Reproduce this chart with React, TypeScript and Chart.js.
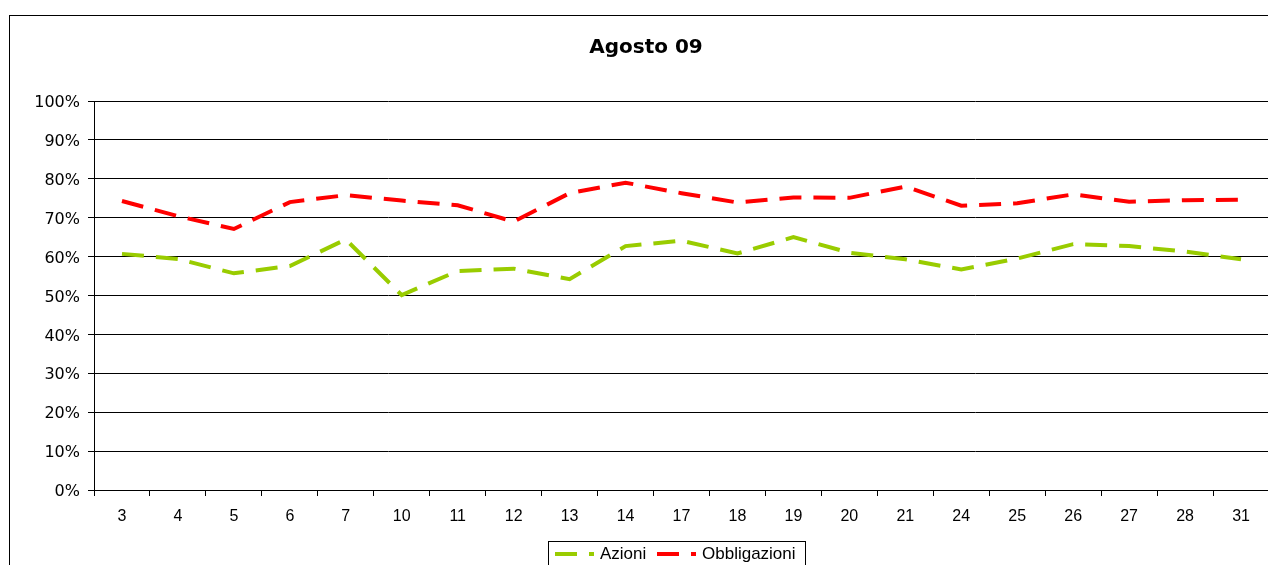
import React, { useEffect, useRef } from "react";
import { Chart, registerables } from "chart.js";

Chart.register(...registerables);

const TITLE = "Agosto 09";
const days = ["3", "4", "5", "6", "7", "10", "11", "12", "13", "14", "17", "18", "19", "20", "21", "24", "25", "26", "27", "28", "31"];
const azioni = [60.7, 59.4, 55.7, 57.6, 64.4, 50.1, 56.3, 56.9, 54.2, 62.7, 64.1, 60.8, 65.0, 61.0, 59.3, 56.7, 59.5, 63.2, 62.7, 61.3, 59.3];
const obbligazioni = [74.3, 70.4, 67.1, 74.0, 75.8, 74.4, 73.2, 69.0, 76.3, 79.0, 76.3, 73.9, 75.2, 75.1, 78.0, 73.1, 73.7, 76.0, 74.1, 74.5, 74.6];
const yTicks = [0, 10, 20, 30, 40, 50, 60, 70, 80, 90, 100];
const seriesNames = ["Azioni", "Obbligazioni"];
const seriesColors = ["#99CC00", "#FF0000"];

const DASH = [22, 12];

const decorPlugin = {
  id: "decor",
  afterDraw(chart: any) {
    const ctx = chart.ctx;
    ctx.save();
    // outer frame
    ctx.strokeStyle = "#000";
    ctx.lineWidth = 1;
    ctx.setLineDash([]);
    ctx.strokeRect(9.5, 15.5, 1400, 800);
    // title
    ctx.fillStyle = "#000";
    ctx.font = "bold 20px 'DejaVu Sans'";
    ctx.textAlign = "center";
    ctx.textBaseline = "alphabetic";
    ctx.fillText(TITLE, 646, 53);
    // legend box
    ctx.strokeRect(548.5, 541.5, 257, 40);
    const items = [
      { x0: 555, x1: 594, tx: 600 },
      { x0: 657, x1: 696, tx: 702 },
    ];
    items.forEach((it, i) => {
      ctx.save();
      ctx.beginPath();
      ctx.rect(it.x0, 540, it.x1 - it.x0, 30);
      ctx.clip();
      ctx.strokeStyle = seriesColors[i];
      ctx.lineWidth = 4;
      ctx.lineCap = "butt";
      ctx.setLineDash(DASH);
      ctx.beginPath();
      ctx.moveTo(it.x0, 554);
      ctx.lineTo(it.x1 + 20, 554);
      ctx.stroke();
      ctx.restore();
      ctx.fillStyle = "#000";
      ctx.font = "17px 'Liberation Sans'";
      ctx.textAlign = "left";
      ctx.textBaseline = "middle";
      ctx.fillText(seriesNames[i], it.tx, 554);
    });
    ctx.restore();
  },
};

export default function App() {
  const ref = useRef<HTMLCanvasElement>(null);
  useEffect(() => {
    if (!ref.current) return;
    const chart = new Chart(ref.current, {
      type: "line",
      data: {
        labels: days,
        datasets: [
          {
            label: seriesNames[0],
            data: azioni,
            borderColor: seriesColors[0],
            backgroundColor: seriesColors[0],
            borderWidth: 4,
            borderDash: DASH,
            pointRadius: 0,
            tension: 0,
            fill: false,
          },
          {
            label: seriesNames[1],
            data: obbligazioni,
            borderColor: seriesColors[1],
            backgroundColor: seriesColors[1],
            borderWidth: 4,
            borderDash: DASH,
            pointRadius: 0,
            tension: 0,
            fill: false,
          },
        ],
      },
      options: {
        responsive: false,
        animation: false,
        devicePixelRatio: 1,
        layout: { padding: { left: 0, right: 31, top: 101, bottom: 70 } },
        plugins: {
          legend: { display: false },
          title: { display: false },
          tooltip: { enabled: false },
        },
        scales: {
          x: {
            offset: true,
            afterFit: (s: any) => {
              s.height = 40;
            },
            grid: {
              offset: true,
              drawOnChartArea: false,
              drawTicks: true,
              tickLength: 6,
              color: "#000",
            },
            border: { display: true, color: "#000" },
            ticks: {
              color: "#000",
              font: { family: "'Liberation Sans'", size: 16 },
              padding: 11,
              autoSkip: false,
              maxRotation: 0,
            },
          },
          y: {
            min: 0,
            max: 100,
            afterFit: (s: any) => {
              s.width = 94;
            },
            afterBuildTicks: (s: any) => {
              s.ticks = yTicks.map((v) => ({ value: v }));
            },
            grid: {
              color: "#000",
              tickLength: 6,
              drawTicks: true,
            },
            border: { display: true, color: "#000" },
            ticks: {
              color: "#000",
              font: { family: "'DejaVu Sans'", size: 16 },
              padding: 8,
              labelOffset: 2,
              callback: (v: any) => v + "%",
            },
          },
        },
      },
      plugins: [decorPlugin],
    });
    return () => chart.destroy();
  }, []);
  return (
    <div
      style={{
        position: "fixed",
        left: 0,
        top: 0,
        width: 1268,
        height: 565,
        overflow: "hidden",
        background: "#fff",
      }}
    >
      <canvas
        ref={ref}
        width={1300}
        height={600}
        style={{ display: "block", width: 1300, height: 600 }}
      />
    </div>
  );
}
